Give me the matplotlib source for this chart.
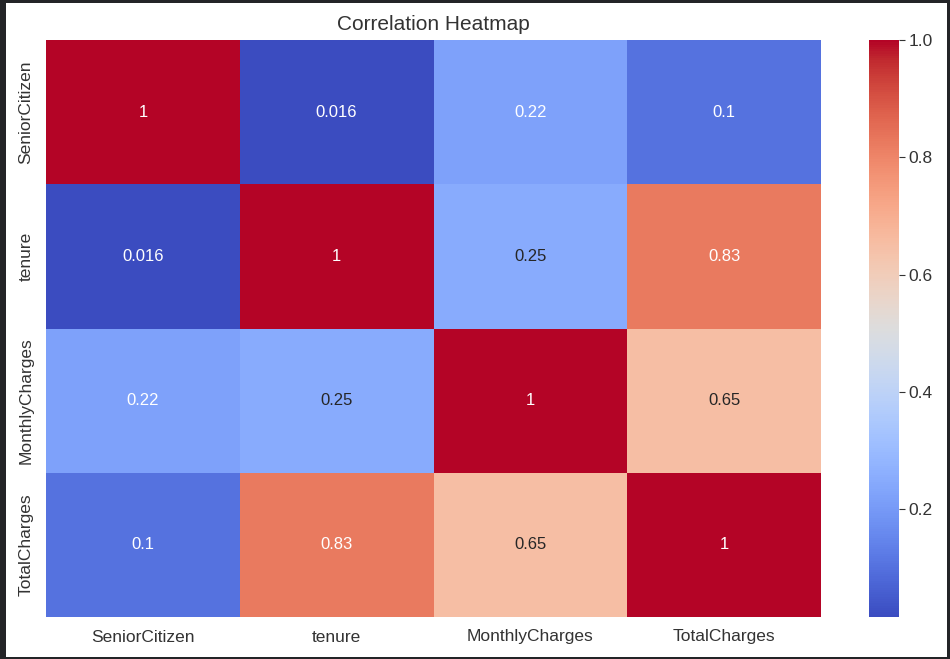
import matplotlib
matplotlib.use("Agg")
import matplotlib.pyplot as plt
import numpy as np
import pandas as pd
import seaborn as sns
from matplotlib.patches import Rectangle

labels = ["SeniorCitizen", "tenure", "MonthlyCharges", "TotalCharges"]
row_senior = [1.0, 0.0164, 0.2202, 0.1024]
row_tenure = [0.0164, 1.0, 0.2479, 0.8259]
row_monthly = [0.2202, 0.2479, 1.0, 0.6511]
row_total = [0.1024, 0.8259, 0.6511, 1.0]

corr = pd.DataFrame([row_senior, row_tenure, row_monthly, row_total],
                    index=labels, columns=labels)

sns.set_style("white")
plt.rcParams["font.family"] = ["Liberation Sans", "DejaVu Sans"]
text_color = "#333333"

W, H = 950, 659
fig = plt.figure(figsize=(W / 100, H / 100), dpi=100)
fig.patch.set_facecolor("white")

ax = fig.add_axes([46 / W, 1 - 617 / H, (821 - 46) / W, (617 - 40) / H])
cax = fig.add_axes([869 / W, 1 - 617 / H, (899 - 869) / W, (617 - 40) / H])

sns.heatmap(corr, annot=True, cmap="coolwarm", ax=ax, cbar_ax=cax,
            annot_kws={"fontsize": 12})

ax.set_title("Correlation Heatmap", fontsize=15, color=text_color, pad=7)
ax.tick_params(length=0, labelsize=12.5, colors=text_color, pad=9)
for t in ax.get_yticklabels():
    t.set_rotation(90)
    t.set_va("center")
cax.tick_params(length=4, width=0.8, labelsize=12.5, colors=text_color, pad=3)
cax.set_yticks([0.2, 0.4, 0.6, 0.8, 1.0])
cax.set_yticklabels(["0.2", "0.4", "0.6", "0.8", "1.0"])

frame = "#232427"
fig.add_artist(Rectangle((0, 0), 6 / W, 1, transform=fig.transFigure,
                         facecolor=frame, edgecolor="none", zorder=10))
fig.add_artist(Rectangle((0, 1 - 3 / H), 1, 3 / H, transform=fig.transFigure,
                         facecolor=frame, edgecolor="none", zorder=10))
fig.add_artist(Rectangle((1 - 3 / W, 0), 3 / W, 1, transform=fig.transFigure,
                         facecolor=frame, edgecolor="none", zorder=10))
fig.add_artist(Rectangle((0, 0), 1, 2 / H, transform=fig.transFigure,
                         facecolor=frame, edgecolor="none", zorder=10))

fig.savefig("out.png", dpi=100)
